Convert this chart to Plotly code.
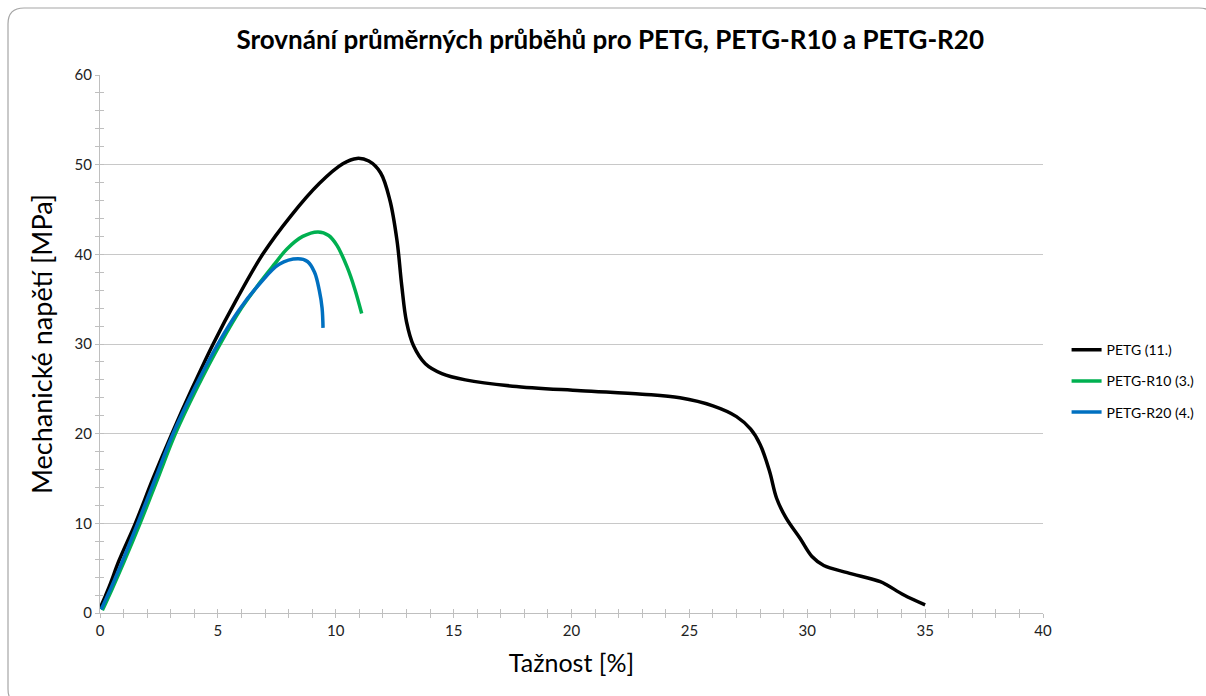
import plotly.graph_objects as go

petg_x = [0.0, 0.4, 0.8, 1.5, 2.25, 3.05, 3.9, 4.8, 5.8, 6.9, 8.1, 9.3, 10.3, 10.9, 11.4, 11.9, 12.3, 12.6, 12.8, 13.0, 13.3, 13.8, 14.5, 15.5, 17.5, 20.4, 23.0, 24.6, 26.0, 27.0, 27.6, 28.0, 28.4, 28.7, 29.1, 29.7, 30.2, 30.7, 31.7, 33.1, 33.4, 34.1, 35.0]
petg_y = [0.5, 3.0, 5.8, 10.0, 15.0, 20.0, 25.0, 30.0, 35.0, 40.0, 44.3, 47.9, 50.1, 50.7, 50.4, 49.1, 46.0, 41.5, 36.5, 32.5, 29.8, 27.8, 26.7, 26.0, 25.3, 24.8, 24.4, 24.0, 23.1, 21.9, 20.5, 18.8, 15.8, 12.8, 10.6, 8.3, 6.3, 5.3, 4.5, 3.5, 3.1, 2.0, 0.9]

r10_x = [0.1, 0.5, 1.0, 1.7, 2.45, 3.2, 4.1, 5.1, 6.0, 6.8, 7.4, 7.93, 8.6, 9.25, 9.7, 10.05, 10.48, 10.8, 11.1]
r10_y = [0.3, 2.6, 5.6, 10.0, 15.0, 20.0, 25.0, 30.0, 34.0, 36.9, 38.9, 40.6, 42.0, 42.5, 42.1, 41.0, 38.6, 36.2, 33.4]

r20_x = [0.05, 0.5, 1.0, 1.6, 2.35, 3.1, 4.0, 5.0, 5.9, 6.8, 7.6, 8.4, 8.8, 9.1, 9.3, 9.42, 9.46]
r20_y = [0.4, 3.0, 6.1, 10.0, 15.0, 20.0, 25.0, 30.0, 33.8, 36.8, 38.9, 39.5, 39.2, 38.0, 36.0, 34.0, 31.8]

names = ["PETG (11.)", "PETG-R10 (3.)", "PETG-R20 (4.)"]
colors = ["#000000", "#00b050", "#0070c0"]

FONT = "Lato"
fig = go.Figure()
for i, (xs, ys, nm, c) in enumerate([(petg_x, petg_y, names[0], colors[0]),
                                     (r10_x, r10_y, names[1], colors[1]),
                                     (r20_x, r20_y, names[2], colors[2])]):
    fig.add_trace(go.Scatter(x=xs, y=ys, mode="lines", name=nm, legendgroup=f"g{i}",
                             line=dict(color=c, width=3.5, shape="spline", smoothing=1.0)))

axis_common = dict(showline=True, linecolor="#bfbfbf", linewidth=1.2, zeroline=False,
                   tickcolor="#bfbfbf", ticklen=4, tickwidth=1,
                   tickfont=dict(family=FONT, size=15, color="#222222"))
fig.update_layout(
    width=1206, height=696,
    margin=dict(l=100, r=163, t=75, b=83, autoexpand=False),
    paper_bgcolor="white", plot_bgcolor="white",
    title=dict(text="<b>Srovnání průměrných průběhů pro PETG, PETG-R10 a PETG-R20</b>",
               x=0.506, xanchor="center", y=0.942, yanchor="middle",
               font=dict(family=FONT, size=26, color="#000000")),
    xaxis=dict(range=[0, 40], tickvals=[0, 5, 10, 15, 20, 25, 30, 35, 40], showgrid=False,
               ticks="outside", minor=dict(dtick=1, ticks="outside", ticklen=4, tickcolor="#bfbfbf", showgrid=False),
               title=dict(text="Tažnost [%]", font=dict(family=FONT, size=25, color="#000000"), standoff=16),
               **axis_common),
    yaxis=dict(range=[0, 60], tickvals=[0, 10, 20, 30, 40, 50, 60], showgrid=True, gridcolor="#c8c8c8", gridwidth=1,
               ticks="outside", minor=dict(dtick=2, ticks="outside", ticklen=4, tickcolor="#bfbfbf", showgrid=False),
               title=dict(text="Mechanické napětí [MPa]", font=dict(family=FONT, size=27, color="#000000"), standoff=14),
               **axis_common),
    xaxis2=dict(range=[0, 40], overlaying="x", showticklabels=False, showgrid=False, zeroline=False,
                ticks="inside", tickvals=[0, 5, 10, 15, 20, 25, 30, 35, 40], ticklen=4, tickcolor="#bfbfbf",
                minor=dict(dtick=1, ticks="inside", ticklen=4, tickcolor="#bfbfbf"), anchor="y", side="bottom"),
    yaxis2=dict(range=[0, 60], overlaying="y", showticklabels=False, showgrid=False, zeroline=False,
                ticks="inside", tickvals=[0, 10, 20, 30, 40, 50, 60], ticklen=4, tickcolor="#bfbfbf",
                minor=dict(dtick=2, ticks="inside", ticklen=4, tickcolor="#bfbfbf"), anchor="x", side="left"),
    legend=dict(x=1.025, xanchor="left", y=0.431, yanchor="middle",
                font=dict(family=FONT, size=14, color="#000000"), tracegroupgap=10,
                itemwidth=30, bgcolor="rgba(0,0,0,0)"),
    showlegend=True,
)
fig.add_trace(go.Scatter(x=[None], y=[None], xaxis="x2", yaxis="y2", showlegend=False, hoverinfo="skip"))

def px(xp):
    return (xp - 100) / 943.0
def py(yp):
    return (613 - yp) / 538.0
r = 16
x0, y0, x1, y1 = 8, 8, 1215, 705
path = (f"M {px(x0)} {py(y0 + r)} Q {px(x0)} {py(y0)} {px(x0 + r)} {py(y0)} "
        f"L {px(x1 - r)} {py(y0)} Q {px(x1)} {py(y0)} {px(x1)} {py(y0 + r)} "
        f"L {px(x1)} {py(y1 - r)} Q {px(x1)} {py(y1)} {px(x1 - r)} {py(y1)} "
        f"L {px(x0 + r)} {py(y1)} Q {px(x0)} {py(y1)} {px(x0)} {py(y1 - r)} Z")
fig.add_shape(type="path", path=path, xref="paper", yref="paper",
              line=dict(color="#a6a6a6", width=1.2), layer="below")

fig.write_html("out.html")
